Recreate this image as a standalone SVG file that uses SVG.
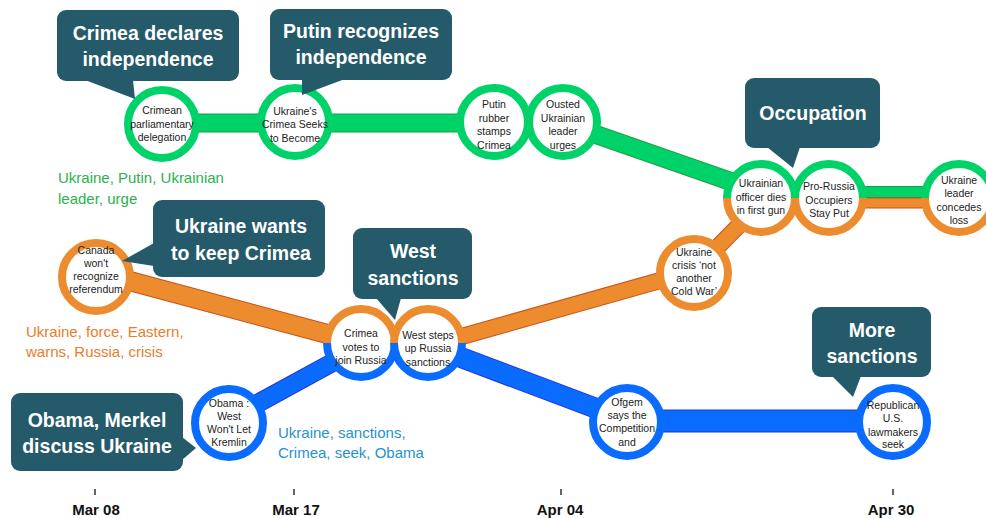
<svg xmlns="http://www.w3.org/2000/svg" width="986" height="518" viewBox="0 0 986 518">
  <style>
    .g-edge { stroke: #1f9f45; fill: none; }
    .g-band { stroke: #00d26a; fill: none; }
    .o-edge { stroke: #c9511c; fill: none; }
    .o-band { stroke: #ec8c2e; fill: none; }
    .b-edge { stroke: #2233e0; fill: none; }
    .b-band { stroke: #0a6cff; fill: none; }
    .disc { fill: #ffffff; }
    .ring-g { fill: none; stroke: #00d26a; stroke-width: 8; }
    .ring-o { fill: none; stroke: #ec8c2e; stroke-width: 8; }
    .ring-b { fill: none; stroke: #0a6cff; stroke-width: 8; }
    .nt { font-family: "Liberation Sans", Arial, sans-serif; font-size: 10.5px; fill: #222222; text-anchor: middle; }
    .bubble { fill: #245a6a; }
    .bt { font-family: "Liberation Sans", Arial, sans-serif; font-size: 19.5px; font-weight: bold; fill: #ffffff; text-anchor: middle; }
    .kw { font-family: "Liberation Sans", Arial, sans-serif; font-size: 15px; }
    .ax { font-family: "Liberation Sans", Arial, sans-serif; font-size: 15px; font-weight: bold; fill: #111111; text-anchor: middle; }
    .tick { stroke: #333333; stroke-width: 1.5; }
  </style>

  <!-- connectors: storyline bands -->
  <g id="connectors">
    <!-- green storyline -->
    <path class="g-edge" stroke-width="19" d="M162,123 L494,123 L563,123 L761,192"/>
    <path class="g-band" stroke-width="17" d="M162,123 L494,123 L563,123 L761,192"/>
    <path class="g-edge" stroke-width="12" d="M761,192 L959,192"/>
    <path class="g-band" stroke-width="10" d="M761,192 L959,192"/>
    <!-- orange storyline -->
    <path class="o-edge" stroke-width="20" d="M96,272 L361,343"/>
    <path class="o-band" stroke-width="18" d="M96,272 L361,343"/>
    <path class="o-edge" stroke-width="17" d="M428,346 L694,271 L761,203"/>
    <path class="o-band" stroke-width="15" d="M428,346 L694,271 L761,203"/>
    <path class="o-edge" stroke-width="11" d="M761,203 L959,203"/>
    <path class="o-band" stroke-width="9" d="M761,203 L959,203"/>
    <!-- blue storyline -->
    <path class="b-edge" stroke-width="19" d="M229,419 L361,347"/>
    <path class="b-band" stroke-width="17" d="M229,419 L361,347"/>
    <path class="b-edge" stroke-width="21" d="M428,345 L627,420"/>
    <path class="b-band" stroke-width="19" d="M428,345 L627,420"/>
    <path class="b-edge" stroke-width="23" d="M627,421 L893,421"/>
    <path class="b-band" stroke-width="21" d="M627,421 L893,421"/>
  </g>

  <!-- green nodes -->
  <g id="n-crimean-delegation">
    <circle class="disc" cx="162" cy="124" r="34"/>
    <circle class="ring-g" cx="162" cy="124" r="34"/>
    <text class="nt" x="162" y="114">Crimean</text>
    <text class="nt" x="162" y="128">parliamentary</text>
    <text class="nt" x="162" y="141">delegation</text>
  </g>
  <g id="n-crimea-seeks">
    <circle class="disc" cx="295" cy="122" r="34"/>
    <circle class="ring-g" cx="295" cy="122" r="34"/>
    <text class="nt" x="295" y="115">Ukraine's</text>
    <text class="nt" x="295" y="128">Crimea Seeks</text>
    <text class="nt" x="295" y="142">to Become</text>
  </g>
  <g id="n-putin-rubber">
    <circle class="disc" cx="494" cy="122" r="34"/>
    <circle class="ring-g" cx="494" cy="122" r="34"/>
    <text class="nt" x="494" y="108">Putin</text>
    <text class="nt" x="494" y="122">rubber</text>
    <text class="nt" x="494" y="135">stamps</text>
    <text class="nt" x="494" y="149">Crimea</text>
  </g>
  <g id="n-ousted-leader">
    <circle class="disc" cx="563" cy="122" r="34"/>
    <circle class="ring-g" cx="563" cy="122" r="34"/>
    <text class="nt" x="563" y="108">Ousted</text>
    <text class="nt" x="563" y="122">Ukrainian</text>
    <text class="nt" x="563" y="135">leader</text>
    <text class="nt" x="563" y="149">urges</text>
  </g>

  <!-- shared green / orange nodes -->
  <g id="n-officer-dies">
    <circle class="disc" cx="761" cy="198" r="34"/>
    <path class="ring-g" d="M727,198 A34,34 0 0 1 795,198"/>
    <path class="ring-o" d="M795,198 A34,34 0 0 1 727,198"/>
    <text class="nt" x="761" y="187">Ukrainian</text>
    <text class="nt" x="761" y="201">officer dies</text>
    <text class="nt" x="761" y="214">in first gun</text>
  </g>
  <g id="n-occupiers-stay">
    <circle class="disc" cx="829" cy="198" r="34"/>
    <path class="ring-g" d="M795,198 A34,34 0 0 1 863,198"/>
    <path class="ring-o" d="M863,198 A34,34 0 0 1 795,198"/>
    <text class="nt" x="829" y="190">Pro-Russia</text>
    <text class="nt" x="829" y="204">Occupiers</text>
    <text class="nt" x="829" y="217">Stay Put</text>
  </g>
  <g id="n-leader-concedes">
    <circle class="disc" cx="959" cy="198" r="34"/>
    <path class="ring-g" d="M925,198 A34,34 0 0 1 993,198"/>
    <path class="ring-o" d="M993,198 A34,34 0 0 1 925,198"/>
    <text class="nt" x="959" y="184">Ukraine</text>
    <text class="nt" x="959" y="197">leader</text>
    <text class="nt" x="959" y="211">concedes</text>
    <text class="nt" x="959" y="224">loss</text>
  </g>

  <!-- orange nodes -->
  <g id="n-canada-referendum">
    <circle class="disc" cx="96" cy="277" r="34"/>
    <circle class="ring-o" cx="96" cy="277" r="34"/>
    <text class="nt" x="96" y="254" font-size="10">Canada</text>
    <text class="nt" x="96" y="267" font-size="10">won't</text>
    <text class="nt" x="96" y="280" font-size="10">recognize</text>
    <text class="nt" x="96" y="293" font-size="10">referendum</text>
  </g>
  <g id="n-cold-war">
    <circle class="disc" cx="694" cy="273" r="34"/>
    <circle class="ring-o" cx="694" cy="273" r="34"/>
    <text class="nt" x="694" y="256">Ukraine</text>
    <text class="nt" x="694" y="269">crisis ‘not</text>
    <text class="nt" x="694" y="282">another</text>
    <text class="nt" x="694" y="295">Cold War’</text>
  </g>

  <!-- shared orange / blue nodes -->
  <g id="n-crimea-votes">
    <circle class="disc" cx="361" cy="343" r="34"/>
    <path class="ring-o" d="M327,343 A34,34 0 0 1 395,343"/>
    <path class="ring-b" d="M395,343 A34,34 0 0 1 327,343"/>
    <text class="nt" x="361" y="337">Crimea</text>
    <text class="nt" x="361" y="351">votes to</text>
    <text class="nt" x="361" y="364">join Russia</text>
  </g>
  <g id="n-west-steps">
    <circle class="disc" cx="428" cy="343" r="34"/>
    <path class="ring-o" d="M394,343 A34,34 0 0 1 462,343"/>
    <path class="ring-b" d="M462,343 A34,34 0 0 1 394,343"/>
    <text class="nt" x="428" y="339">West steps</text>
    <text class="nt" x="428" y="352">up Russia</text>
    <text class="nt" x="428" y="366">sanctions</text>
  </g>

  <!-- blue nodes -->
  <g id="n-obama-kremlin">
    <circle class="disc" cx="229" cy="423" r="34"/>
    <circle class="ring-b" cx="229" cy="423" r="34"/>
    <text class="nt" x="229" y="407" font-size="10">Obama :</text>
    <text class="nt" x="229" y="420" font-size="10">West</text>
    <text class="nt" x="229" y="433" font-size="10">Won't Let</text>
    <text class="nt" x="229" y="446" font-size="10">Kremlin</text>
  </g>
  <g id="n-ofgem">
    <circle class="disc" cx="627" cy="422" r="34"/>
    <circle class="ring-b" cx="627" cy="422" r="34"/>
    <text class="nt" x="627" y="406">Ofgem</text>
    <text class="nt" x="627" y="419">says the</text>
    <text class="nt" x="627" y="432">Competition</text>
    <text class="nt" x="627" y="446">and</text>
  </g>
  <g id="n-republican-lawmakers">
    <circle class="disc" cx="893" cy="422" r="34"/>
    <circle class="ring-b" cx="893" cy="422" r="34"/>
    <text class="nt" x="893" y="409">Republican</text>
    <text class="nt" x="893" y="422">U.S.</text>
    <text class="nt" x="893" y="436">lawmakers</text>
    <text class="nt" x="893" y="448">seek</text>
  </g>

  <!-- event callouts -->
  <g id="c-crimea-declares">
    <rect class="bubble" x="57" y="10" width="182" height="71" rx="9"/>
    <polygon class="bubble" points="85,80 133,80 135,99"/>
    <text class="bt" x="148" y="40">Crimea declares</text>
    <text class="bt" x="148" y="66">independence</text>
  </g>
  <g id="c-putin-recognizes">
    <rect class="bubble" x="270" y="9" width="182" height="71" rx="9"/>
    <polygon class="bubble" points="302,79 345,79 302,95"/>
    <text class="bt" x="361" y="38">Putin recognizes</text>
    <text class="bt" x="361" y="64">independence</text>
  </g>
  <g id="c-occupation">
    <rect class="bubble" x="745" y="78" width="135" height="70" rx="9"/>
    <polygon class="bubble" points="767,147 800,147 793,168"/>
    <text class="bt" x="813" y="120">Occupation</text>
  </g>
  <g id="c-ukraine-wants">
    <rect class="bubble" x="153" y="200" width="172" height="77" rx="9"/>
    <polygon class="bubble" points="154,243 154,266 122,261"/>
    <text class="bt" x="241" y="233">Ukraine wants</text>
    <text class="bt" x="241" y="260">to keep Crimea</text>
  </g>
  <g id="c-west-sanctions">
    <rect class="bubble" x="353" y="228" width="119" height="71" rx="9"/>
    <polygon class="bubble" points="376,298 401,298 395,320"/>
    <text class="bt" x="413" y="258">West</text>
    <text class="bt" x="413" y="285">sanctions</text>
  </g>
  <g id="c-obama-merkel">
    <rect class="bubble" x="11" y="393" width="172" height="78" rx="9"/>
    <polygon class="bubble" points="182,437 196,448 182,460"/>
    <text class="bt" x="97" y="427">Obama, Merkel</text>
    <text class="bt" x="97" y="453">discuss Ukraine</text>
  </g>
  <g id="c-more-sanctions">
    <rect class="bubble" x="812" y="307" width="119" height="70" rx="9"/>
    <polygon class="bubble" points="832,376 861,376 853,397"/>
    <text class="bt" x="872" y="337">More</text>
    <text class="bt" x="872" y="363">sanctions</text>
  </g>

  <!-- storyline keywords -->
  <g id="kw-green" class="kw" fill="#2bb24c">
    <text x="58" y="183">Ukraine, Putin, Ukrainian</text>
    <text x="58" y="204">leader, urge</text>
  </g>
  <g id="kw-orange" class="kw" fill="#e87d2c">
    <text x="26" y="337">Ukraine, force, Eastern,</text>
    <text x="26" y="357">warns, Russia, crisis</text>
  </g>
  <g id="kw-blue" class="kw" fill="#1f92d2">
    <text x="278" y="438">Ukraine, sanctions,</text>
    <text x="278" y="458">Crimea, seek, Obama</text>
  </g>

  <!-- time axis -->
  <g id="axis">
    <line class="tick" x1="95" y1="489" x2="95" y2="495"/>
    <line class="tick" x1="294" y1="489" x2="294" y2="495"/>
    <line class="tick" x1="561" y1="489" x2="561" y2="495"/>
    <line class="tick" x1="893" y1="489" x2="893" y2="495"/>
    <text class="ax" x="96" y="515">Mar 08</text>
    <text class="ax" x="296" y="515">Mar 17</text>
    <text class="ax" x="560" y="515">Apr 04</text>
    <text class="ax" x="891" y="515">Apr 30</text>
  </g>
</svg>
